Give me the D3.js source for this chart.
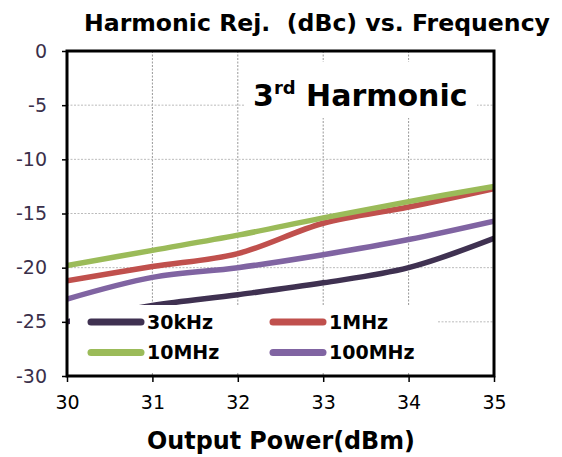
<!DOCTYPE html>
<html>
<head>
<meta charset="utf-8">
<script src="https://cdn.jsdelivr.net/npm/d3@7"></script>
<style>
  html, body { margin: 0; padding: 0; background: #fff; }
  svg { display: block; font-family: "DejaVu Sans", Verdana, sans-serif; }
</style>
</head>
<body>
<svg id="chart"></svg>
<script>
// ── DATA ────────────────────────────────────────────────────────────────
const power = [30, 31, 32, 33, 34, 35];
const s30k   = [-25.0, -23.5, -22.5, -21.4, -20.0, -17.3];
const s1M    = [-21.2, -19.9, -18.7, -15.9, -14.4, -12.7];
const s10M   = [-19.8, -18.4, -17.0, -15.4, -13.9, -12.5];
const s100M  = [-22.9, -20.9, -20.0, -18.8, -17.4, -15.7];
const yTicks = [0, -5, -10, -15, -20, -25, -30];
const xTicks = [30, 31, 32, 33, 34, 35];

const series = [
  { name: "30kHz",  values: s30k,  color: "#3f3151" },
  { name: "1MHz",   values: s1M,   color: "#c0504d" },
  { name: "10MHz",  values: s10M,  color: "#9bbb59" },
  { name: "100MHz", values: s100M, color: "#8064a2" },
];

// ── DIMENSIONS ──────────────────────────────────────────────────────────
const W = 562, H = 457;
const margin = { top: 51, right: 68, bottom: 81, left: 67 };
const innerW = W - margin.left - margin.right;
const innerH = H - margin.top - margin.bottom;

const svg = d3.select("#chart").attr("width", W).attr("height", H);
const g = svg.append("g").attr("transform", `translate(${margin.left},${margin.top})`);

const x = d3.scaleLinear().domain([30, 35]).range([0, innerW]);
const y = d3.scaleLinear().domain([-30, 0]).range([innerH, 0]);

// ── GRID ────────────────────────────────────────────────────────────────
g.append("g")
  .selectAll("line")
  .data(xTicks.slice(1, -1))
  .join("line")
    .attr("x1", d => x(d)).attr("x2", d => x(d))
    .attr("y1", 0).attr("y2", innerH)
    .attr("stroke", "#999").attr("stroke-width", 1).attr("stroke-dasharray", "2,1.5");

g.append("g")
  .selectAll("line")
  .data(yTicks.slice(1, -1))
  .join("line")
    .attr("x1", 0).attr("x2", innerW)
    .attr("y1", d => y(d)).attr("y2", d => y(d))
    .attr("stroke", "#bbb").attr("stroke-width", 1).attr("stroke-dasharray", "2,1.5");

// ── LINES ───────────────────────────────────────────────────────────────
g.append("clipPath").attr("id", "clip")
  .append("rect").attr("width", innerW).attr("height", innerH);

const line = d3.line()
  .x((d, i) => x(power[i]))
  .y(d => y(d))
  .curve(d3.curveCatmullRom.alpha(0.5));

g.append("g").attr("clip-path", "url(#clip)")
  .selectAll("path")
  .data(series)
  .join("path")
    .attr("d", d => line(d.values))
    .attr("fill", "none")
    .attr("stroke", d => d.color)
    .attr("stroke-width", 5.5);

// ── LABEL "3rd Harmonic" ────────────────────────────────────────────────
g.append("rect")
  .attr("x", 177).attr("y", 11).attr("width", 233).attr("height", 56)
  .attr("fill", "#fff");
const lab = g.append("text")
  .attr("x", 186).attr("y", 55)
  .attr("font-weight", "bold").attr("font-size", 30).attr("fill", "#000");
lab.append("tspan").text("3");
lab.append("tspan").attr("font-size", 18).attr("dy", -12).text("rd");
lab.append("tspan").attr("dy", 12).text(" Harmonic");

// ── LEGEND ──────────────────────────────────────────────────────────────
g.append("rect")
  .attr("x", 3).attr("y", 254).attr("width", 367).attr("height", 67)
  .attr("fill", "#fff");

const legend = g.append("g")
  .selectAll("g")
  .data(series)
  .join("g")
    .attr("transform", (d, i) => `translate(${24 + (i % 2) * 182},${271 + Math.floor(i / 2) * 30.5})`);

legend.append("line")
  .attr("x1", 0).attr("x2", 50)
  .attr("stroke", d => d.color).attr("stroke-width", 7).attr("stroke-linecap", "round");

legend.append("text")
  .attr("x", 56).attr("dy", "0.36em")
  .attr("font-weight", "bold").attr("font-size", 19).attr("fill", "#000")
  .text(d => d.name);

// ── FRAME & AXES ────────────────────────────────────────────────────────
g.append("rect")
  .attr("width", innerW).attr("height", innerH)
  .attr("fill", "none").attr("stroke", "#000").attr("stroke-width", 3);

g.append("g")
  .attr("transform", `translate(0,${innerH})`)
  .call(d3.axisBottom(x).tickValues(xTicks).tickSize(6).tickPadding(14).tickFormat(d3.format("d")))
  .call(ax => ax.select(".domain").remove())
  .call(ax => ax.selectAll(".tick line").attr("stroke", "#000").attr("stroke-width", 1.5))
  .call(ax => ax.selectAll(".tick text")
    .attr("font-family", "DejaVu Sans, sans-serif")
    .attr("font-size", 19).attr("fill", "#000"));

g.append("g")
  .call(d3.axisLeft(y).tickValues(yTicks).tickSize(5).tickPadding(15).tickFormat(d => String(d)))
  .call(ax => ax.select(".domain").remove())
  .call(ax => ax.selectAll(".tick line").attr("stroke", "#000").attr("stroke-width", 1.5))
  .call(ax => ax.selectAll(".tick text")
    .attr("font-family", "DejaVu Sans, sans-serif")
    .attr("font-size", 19).attr("fill", "#3a2f4a"));

// ── TITLES ──────────────────────────────────────────────────────────────
svg.append("text")
  .attr("x", 317).attr("y", 31)
  .attr("text-anchor", "middle")
  .attr("font-weight", "bold").attr("font-size", 22.5).attr("fill", "#000")
  .attr("textLength", 466).attr("lengthAdjust", "spacingAndGlyphs")
  .attr("xml:space", "preserve")
  .text("Harmonic Rej.  (dBc) vs. Frequency");

svg.append("text")
  .attr("x", 281).attr("y", 449)
  .attr("text-anchor", "middle")
  .attr("font-weight", "bold").attr("font-size", 24).attr("fill", "#000")
  .attr("textLength", 268).attr("lengthAdjust", "spacingAndGlyphs")
  .text("Output Power(dBm)");
</script>
</body>
</html>
